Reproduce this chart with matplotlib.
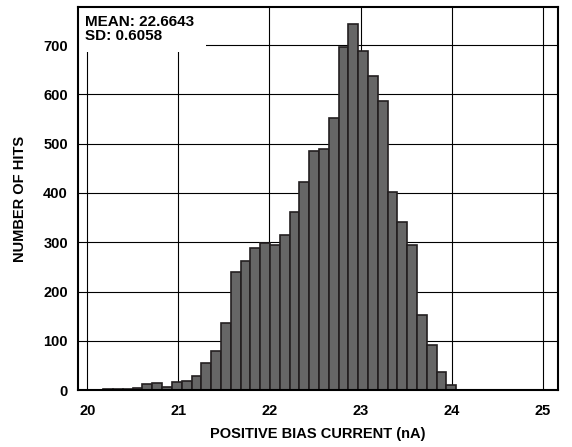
import numpy as np
import matplotlib
matplotlib.use("Agg")
import matplotlib.pyplot as plt
from matplotlib.patches import Rectangle

plt.rcParams['font.family'] = ['Liberation Sans', 'DejaVu Sans']
plt.rcParams['font.weight'] = 'bold'

# histogram data
bin_first = 20.176
bin_last = 24.05
counts = [2, 2, 3, 5, 13, 15, 6, 17, 19, 30, 55, 80,
          136, 240, 263, 289, 299, 294, 315, 361, 422, 485, 490, 553,
          695, 742, 688, 638, 586, 402, 341, 294, 152, 92, 38, 10]
x_ticks = [20, 21, 22, 23, 24, 25]
y_ticks = [0, 100, 200, 300, 400, 500, 600, 700]
stats_text = "MEAN: 22.6643\nSD: 0.6058"

edges = np.linspace(bin_first, bin_last, len(counts) + 1)

fig = plt.figure(figsize=(5.72, 4.47), dpi=100)
ax = fig.add_axes([0.1358, 0.1268, 0.8397, 0.8575])

ax.bar(edges[:-1], counts, width=np.diff(edges), align='edge',
       color='#666666', edgecolor='#231f20', linewidth=1.2, zorder=3)

ax.set_xlim(19.895, 25.167)
ax.set_ylim(0, 777)
ax.set_xticks(x_ticks)
ax.set_yticks(y_ticks)
ax.grid(True, color='black', linewidth=0.8, zorder=1)
ax.set_axisbelow(True)
ax.tick_params(length=0, labelsize=10.5)
ax.tick_params(axis='x', pad=10)
ax.tick_params(axis='y', pad=7)
for lbl in ax.get_xticklabels() + ax.get_yticklabels():
    lbl.set_fontweight('bold')

for sp in ax.spines.values():
    sp.set_linewidth(1.5)
    sp.set_color('black')
    sp.set_zorder(6)

# white box behind the stats text
ax.add_patch(Rectangle((0, 0.883), 0.267, 0.117, transform=ax.transAxes,
                       facecolor='white', edgecolor='none', zorder=4))
ax.text(0.015, 0.978, stats_text, transform=ax.transAxes, va='top', ha='left',
        fontsize=11, fontweight='bold', linespacing=0.95, zorder=5)

ax.set_xlabel('POSITIVE BIAS CURRENT (nA)', fontsize=10.5, fontweight='bold', labelpad=6)
ax.set_ylabel('NUMBER OF HITS', fontsize=10.5, fontweight='bold', labelpad=12)

fig.savefig('out.png', dpi=100)
